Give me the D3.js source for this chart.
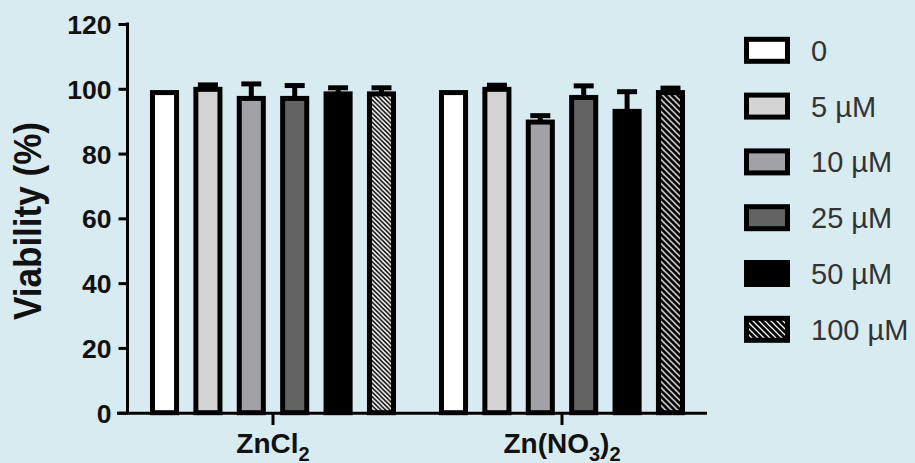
<!DOCTYPE html>
<html><head><meta charset="utf-8">
<script src="https://cdn.jsdelivr.net/npm/d3@7"></script>
<style>
html,body{margin:0;padding:0;background:#d8ebf1;}
svg{display:block;}
</style>
</head><body>
<div id="chart"></div>
<script>
// ---- data ----
const groups = ["ZnCl2", "Zn(NO3)2"];
const series = ["0", "5 µM", "10 µM", "25 µM", "50 µM", "100 µM"];
const meanZnCl2 = [99.6, 100.6, 97.8, 97.8, 99.2, 99.2];
const sdZnCl2   = [0.0, 0.6, 3.7, 3.2, 1.1, 1.1];
const meanZnNO3 = [99.6, 100.6, 90.5, 98.1, 93.8, 99.6];
const sdZnNO3   = [0.0, 0.5, 1.2, 2.8, 5.3, 0.6];
const yTicks = [0, 20, 40, 60, 80, 100, 120];
const yTitle = "Viability (%)";

// ---- styles ----
const fills = ["#ffffff", "#d4d4d4", "#a2a1a6", "#636363", "#000000", "hatch"];
const W = 915, H = 463;
const SW = 5;
const FONT = "Liberation Sans, Arial, sans-serif";

const svg = d3.select("#chart").append("svg").attr("width", W).attr("height", H);
svg.append("rect").attr("width", W).attr("height", H).attr("fill", "#d8ebf1");

const defs = svg.append("defs");
function hatch(id, bg, fg, lw, size) {
  const p = defs.append("pattern").attr("id", id).attr("patternUnits", "userSpaceOnUse")
    .attr("width", size).attr("height", size);
  p.append("rect").attr("width", size).attr("height", size).attr("fill", bg);
  p.append("path").attr("d", `M${-size},0 L${size},${2*size} M0,0 L${size},${size} M0,${-size} L${2*size},${size}`)
    .attr("stroke", fg).attr("stroke-width", lw);
}
hatch("hatchLight", "#ffffff", "#000000", 1.5, 4.5);
hatch("hatchDark", "#000000", "#ffffff", 1.3, 6);

const y = d3.scaleLinear().domain([0, 120]).range([412.7, 24]);
const x0 = d3.scaleBand().domain(groups).range([128.5, 706.5]).paddingInner(0).paddingOuter(0);
const x1 = d3.scaleBand().domain(series).range([0, x0.bandwidth()]).paddingInner(0.33).paddingOuter(0.495);

const data = groups.map((g, gi) => ({
  group: g,
  values: series.map((s, si) => ({
    s, si,
    mean: gi === 0 ? meanZnCl2[si] : meanZnNO3[si],
    sd: gi === 0 ? sdZnCl2[si] : sdZnNO3[si]
  }))
}));

function fillFor(si, gi) {
  if (fills[si] === "hatch") return gi === 0 ? "url(#hatchLight)" : "url(#hatchDark)";
  return fills[si];
}

const gG = svg.selectAll("g.grp").data(data).join("g").attr("class", "grp")
  .attr("transform", d => `translate(${x0(d.group)},0)`);

// error bars (upper only)
gG.each(function(d, gi) {
  const g = d3.select(this);
  d.values.forEach(v => {
    if (v.sd <= 0) return;
    const cx = x1(v.s) + x1.bandwidth() / 2;
    g.append("line").attr("x1", cx).attr("x2", cx)
      .attr("y1", y(v.mean) + SW).attr("y2", y(v.mean + v.sd))
      .attr("stroke", "#000").attr("stroke-width", SW);
    g.append("line").attr("x1", cx - 10).attr("x2", cx + 10)
      .attr("y1", y(v.mean + v.sd)).attr("y2", y(v.mean + v.sd))
      .attr("stroke", "#000").attr("stroke-width", SW);
  });
});

// bars
gG.each(function(d, gi) {
  d3.select(this).selectAll("rect.bar").data(d.values).join("rect").attr("class", "bar")
    .attr("x", v => x1(v.s) + SW / 2)
    .attr("width", x1.bandwidth() - SW)
    .attr("y", v => y(v.mean) + SW / 2)
    .attr("height", v => y(0) - y(v.mean) - SW / 2)
    .attr("fill", v => fillFor(v.si, gi))
    .attr("stroke", "#000").attr("stroke-width", SW);
});

// y axis
const yAxis = d3.axisLeft(y).tickValues(yTicks).tickSize(9).tickPadding(7);
const ya = svg.append("g").attr("transform", "translate(127.5,0)").call(yAxis);
ya.select(".domain").attr("stroke", "#000").attr("stroke-width", 3).attr("d", `M0,${y(120)-1.5}V${y(0)}`);
ya.selectAll(".tick line").attr("stroke", "#000").attr("stroke-width", 3);
ya.selectAll(".tick text").attr("font-family", FONT)
  .attr("font-weight", "bold").attr("font-size", 26.5).attr("fill", "#111").attr("dy", "0.36em");

// x axis
const xa = svg.append("g");
xa.append("line").attr("x1", 117).attr("x2", 707).attr("y1", 413.2).attr("y2", 413.2)
  .attr("stroke", "#000").attr("stroke-width", 3);
groups.forEach(g => {
  const cx = x0(g) + x0.bandwidth() / 2;
  xa.append("line").attr("x1", cx).attr("x2", cx).attr("y1", 413).attr("y2", 425)
    .attr("stroke", "#000").attr("stroke-width", 3);
});
function xLabel(g, parts) {
  const cx = x0(g) + x0.bandwidth() / 2;
  const t = xa.append("text").attr("x", cx).attr("y", 452.5).attr("text-anchor", "middle")
    .attr("font-family", FONT).attr("font-weight", "bold")
    .attr("font-size", 28).attr("fill", "#111");
  parts.forEach(p => {
    const ts = t.append("tspan").text(p.t);
    if (p.sub) ts.attr("font-size", 20).attr("dy", 8);
    else if (p.after) ts.attr("dy", -8);
  });
}
xLabel(groups[0], [{t: "ZnCl"}, {t: "2", sub: true}]);
xLabel(groups[1], [{t: "Zn(NO"}, {t: "3", sub: true}, {t: ")", after: true}, {t: "2", sub: true}]);

// y title
svg.append("text").attr("transform", "translate(41,221) rotate(-90)")
  .attr("text-anchor", "middle").attr("font-family", FONT)
  .attr("font-weight", "bold").attr("font-size", 38)
  .attr("textLength", 198).attr("lengthAdjust", "spacingAndGlyphs")
  .attr("fill", "#111").text(yTitle);

// legend
const lg = svg.append("g");
series.forEach((s, i) => {
  const cy = 50.3 + i * 55.8;
  lg.append("rect").attr("x", 744 + SW / 2).attr("y", cy - 13.5 + SW / 2)
    .attr("width", 46 - SW).attr("height", 27 - SW)
    .attr("fill", fills[i] === "hatch" ? "url(#hatchDark)" : fills[i])
    .attr("stroke", "#000").attr("stroke-width", SW);
  lg.append("text").attr("x", 811).attr("y", cy).attr("dy", "0.36em")
    .attr("font-family", FONT).attr("font-size", 29)
    .attr("fill", "#333").text(s);
});
</script>
</body></html>
